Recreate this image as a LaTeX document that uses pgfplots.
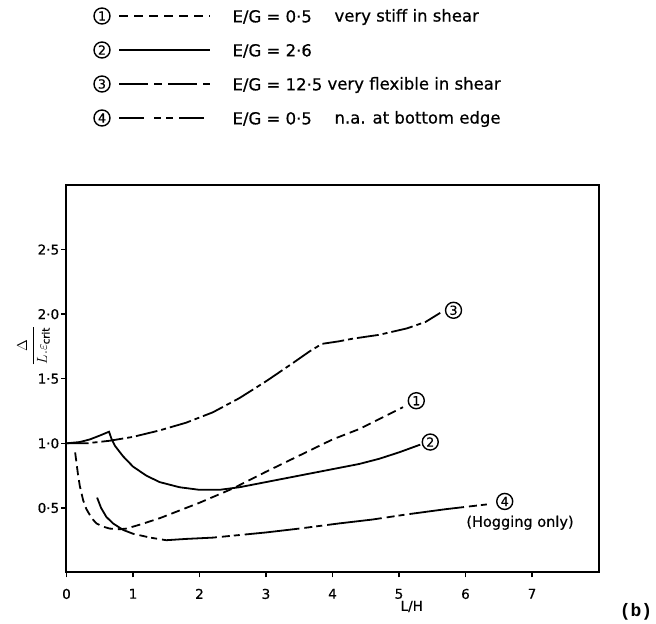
\documentclass[border=0pt]{standalone}
\usepackage{pgfplots}
\pgfplotsset{compat=1.18}
\usepackage{fontspec}
\setmainfont{DejaVu Sans}[FakeBold=0.6]
\newfontfamily\monob{Liberation Mono}
\tikzset{circ/.style={circle, draw, line width=1.4pt, inner sep=0pt, minimum size=16pt, font=\fontsize{12.5}{12.5}\selectfont},
  lt/.style={anchor=west, font=\fontsize{16.5}{16.5}\selectfont}}
\begin{document}
\begin{tikzpicture}
\begin{axis}[
  name=ax,
  width=532pt, height=387.5pt, scale only axis,
  xmin=0, xmax=8, ymin=0, ymax=3,
  xtick={0,1,2,3,4,5,6,7},
  xticklabels={0,1,2,3,4,5,6,7},
  ytick={0.5,1,1.5,2,2.5},
  yticklabels={0·5,1·0,1·5,2·0,2·5},
  tick align=outside, xtick pos=bottom, ytick pos=left,
  major tick length=5pt,
  every axis/.append style={line width=2pt},
  major tick style={line width=1.4pt, black},
  tick label style={font=\fontsize{13.5}{14}\selectfont},
  xticklabel style={yshift=-7pt},
  yticklabel style={xshift=2pt},
  /pgf/number format/assume math mode=true,
  clip=false,
  xlabel={L/H},
  xlabel style={font=\fontsize{13.5}{14}\selectfont, at={(rel axis cs:0.649,0)}, anchor=center, yshift=-34pt},
  ylabel={$\displaystyle\frac{\Delta}{L.\varepsilon_{\mathrm{crit}}}$},
  ylabel style={font=\fontsize{14.5}{15}\selectfont, at={(rel axis cs:-0.062,0.585)}, anchor=center},
]
% 1: E/G = 0.5, very stiff in shear (dashed)
\addplot[black, line width=1.8pt, dash pattern=on 9pt off 5pt] coordinates {
 (0.13,0.93) (0.17,0.77) (0.2,0.67) (0.25,0.56) (0.3,0.49) (0.38,0.42) (0.45,0.38)
 (0.55,0.355) (0.65,0.34) (0.8,0.335) (0.9,0.34) (1.1,0.37) (1.4,0.42) (2.0,0.54)
 (2.5,0.65) (3.0,0.78) (3.4,0.88) (4.0,1.03) (4.4,1.11) (5.06,1.28)};
% 2: E/G = 2.6 (solid)
\addplot[black, line width=1.8pt] coordinates {
 (0,1.0) (0.2,1.01) (0.35,1.03) (0.5,1.06) (0.64,1.09) (0.68,1.03) (0.73,0.98)
 (0.85,0.90) (1.0,0.82) (1.2,0.75) (1.4,0.70) (1.7,0.66) (2.0,0.64) (2.3,0.64)
 (2.6,0.66) (3.0,0.70) (3.4,0.74) (4.0,0.80) (4.4,0.84) (4.7,0.88) (5.0,0.93) (5.32,0.99)};
% 3: E/G = 12.5, very flexible in shear (dash-dot)
\addplot[black, line width=1.8pt, dash pattern=on 22pt off 4pt on 5pt off 4pt] coordinates {
 (0,1.0) (0.3,1.0) (0.65,1.02) (1.0,1.05) (1.4,1.10) (1.8,1.16) (2.2,1.24) (2.6,1.35)
 (3.0,1.48) (3.4,1.62) (3.65,1.71) (3.84,1.77) (4.1,1.79) (4.3,1.81) (4.7,1.84)
 (5.12,1.89) (5.4,1.94) (5.62,2.01)};
% 4: E/G = 0.5, n.a. at bottom edge
\addplot[black, line width=1.8pt, dash pattern=on 55pt off 5pt on 8pt off 4pt on 6pt off 5pt] coordinates {
 (0.46,0.58) (0.52,0.50) (0.6,0.43) (0.7,0.38) (0.85,0.33) (1.0,0.30) (1.26,0.27)
 (1.5,0.25) (1.8,0.26) (2.2,0.27) (2.6,0.29) (3.0,0.31) (3.5,0.34) (4.1,0.38)
 (4.6,0.41) (5.12,0.45) (5.7,0.49) (6.37,0.53)};
\node[circ] at (axis cs:5.26,1.33) {1};
\node[circ] at (axis cs:5.47,1.01) {2};
\node[circ] at (axis cs:5.82,2.03) {3};
\node[circ] at (axis cs:6.59,0.55) {4};
\node[font=\fontsize{14.5}{15}\selectfont] at (axis cs:6.82,0.385) {(Hogging only)};
\end{axis}
\begin{scope}[shift={(ax.south west)}, shift={(-66.5pt,572.5pt)}, x=1pt, y=-1pt]
  \node[circ] at (102,16) {1};
  \node[circ] at (102,50) {2};
  \node[circ] at (102,84) {3};
  \node[circ] at (102,118) {4};
  \draw[line width=1.8pt, dash pattern=on 9pt off 6pt] (119,16) -- (210,16);
  \draw[line width=1.8pt] (119,50) -- (210,50);
  \draw[line width=1.8pt, dash pattern=on 29pt off 6pt on 8pt off 6pt] (119,84) -- (210,84);
  \draw[line width=1.8pt, dash pattern=on 25pt off 10pt on 7pt off 5pt on 7pt off 6pt] (119,118) -- (210,118);
  \node[lt] at (229,17) {E/G = 0·5};
  \node[lt] at (229,51) {E/G = 2·6};
  \node[lt] at (229,85) {E/G = 12·5};
  \node[lt] at (229,119) {E/G = 0·5};
  \node[lt] at (331,17) {very stiff in shear};
  \node[lt] at (324,85) {very flexible in shear};
  \node[lt] at (331,119) {n.a. at bottom edge};
  \node[font=\monob\bfseries\fontsize{18}{18}\selectfont] at (636,612) {(b)};
  \path[use as bounding box] (0,0) rectangle (656,623);
\end{scope}
\end{tikzpicture}
\end{document}
